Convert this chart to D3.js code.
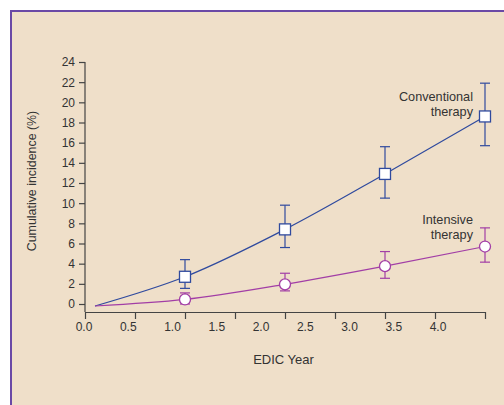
<!DOCTYPE html>
<html><head><meta charset="utf-8">
<script src="https://cdn.jsdelivr.net/npm/d3@7"></script>
<style>body{margin:0;background:#fff}svg{display:block}text{font-family:"Liberation Sans",Arial,sans-serif}</style>
</head><body>
<svg id="c" width="504" height="405"></svg>
<script>
const years = [1, 2, 3, 4];
const conventional = [2.7, 7.4, 12.9, 18.6];
const conventionalLow = [1.55, 5.6, 10.5, 15.7];
const conventionalHigh = [4.4, 9.8, 15.6, 21.9];
const intensive = [0.45, 1.95, 3.75, 5.7];
const intensiveLow = [0.0, 1.3, 2.55, 4.15];
const intensiveHigh = [1.1, 3.05, 5.2, 7.55];
const startPoint = [0.1, -0.2];
const xTickValues = [0, 0.5, 1, 1.5, 2, 2.5, 3, 3.5, 4];
const xTickLabels = ["0.0", "0.5", "1.0", "1.5", "2.0", "2.5", "3.0", "3.5", "4.0"];
const yTickValues = [0, 2, 4, 6, 8, 10, 12, 14, 16, 18, 20, 22, 24];

const svg = d3.select("#c");
svg.append("rect").attr("x", 11).attr("y", 11).attr("width", 500).attr("height", 400)
  .attr("fill", "#efdfc9").attr("stroke", "#6a49a6").attr("stroke-width", 2);

const x = d3.scaleLinear().domain([0, 4]).range([85, 485]);
const xLab = d3.scaleLinear().domain([0, 4]).range([84, 438]);
const y = d3.scaleLinear().domain([0, 24]).range([304, 62]);
const axisColor = "#444";

// x axis
const gx = svg.append("g").attr("transform", "translate(0,312)")
  .call(d3.axisBottom(x).tickValues(xTickValues).tickFormat("").tickSize(7).tickSizeOuter(0));
gx.select(".domain").attr("stroke", axisColor).attr("stroke-width", 1.2);
gx.selectAll(".tick line").attr("stroke", axisColor).attr("stroke-width", 1.2);
svg.append("g").selectAll("text").data(xTickValues).join("text")
  .attr("x", d => xLab(d)).attr("y", 331).attr("text-anchor", "middle")
  .attr("font-size", 12).attr("fill", "#333").text((d, i) => xTickLabels[i]);

// y axis
const gy = svg.append("g").attr("transform", "translate(85,0)")
  .call(d3.axisLeft(y).tickValues(yTickValues).tickSize(6).tickPadding(4).tickSizeOuter(0));
gy.select(".domain").attr("d", "M0," + y(24) + "V312").attr("stroke", axisColor).attr("stroke-width", 1.2);
gy.selectAll(".tick line").attr("stroke", axisColor).attr("stroke-width", 1.2);
gy.selectAll(".tick text").attr("font-size", 12).attr("fill", "#333").attr("font-family", "Liberation Sans, Arial, sans-serif");

svg.append("text").attr("transform", "translate(36,181) rotate(-90)").attr("text-anchor", "middle")
  .attr("font-size", 12.4).attr("fill", "#333").text("Cumulative incidence (%)");
svg.append("text").attr("x", 283.5).attr("y", 364).attr("text-anchor", "middle")
  .attr("font-size", 13).attr("fill", "#333").text("EDIC Year");

function series(vals, lo, hi, color, shape) {
  const pts = [startPoint].concat(years.map((yr, i) => [yr, vals[i]]));
  const line = d3.line().x(d => x(d[0])).y(d => y(d[1])).curve(d3.curveMonotoneX);
  svg.append("path").attr("d", line(pts)).attr("fill", "none").attr("stroke", color).attr("stroke-width", 1.2);
  const g = svg.append("g");
  years.forEach((yr, i) => {
    const cx = x(yr);
    g.append("line").attr("x1", cx).attr("x2", cx).attr("y1", y(lo[i])).attr("y2", y(hi[i])).attr("stroke", color).attr("stroke-width", 1.2);
    [lo[i], hi[i]].forEach(v => g.append("line").attr("x1", cx - 5).attr("x2", cx + 5).attr("y1", y(v)).attr("y2", y(v)).attr("stroke", color).attr("stroke-width", 1.2));
  });
  years.forEach((yr, i) => {
    if (shape === "square") {
      g.append("rect").attr("x", x(yr) - 5.5).attr("y", y(vals[i]) - 5.5).attr("width", 11).attr("height", 11)
        .attr("fill", "#fff").attr("stroke", color).attr("stroke-width", 1.3);
    } else {
      g.append("circle").attr("cx", x(yr)).attr("cy", y(vals[i])).attr("r", 5.5)
        .attr("fill", "#fff").attr("stroke", color).attr("stroke-width", 1.3);
    }
  });
}
series(conventional, conventionalLow, conventionalHigh, "#2f4a9e", "square");
series(intensive, intensiveLow, intensiveHigh, "#a23ea6", "circle");

function label(lines, xr, y0) {
  lines.forEach((t, i) => svg.append("text").attr("x", xr).attr("y", y0 + i * 15).attr("text-anchor", "end")
    .attr("font-size", 12.7).attr("fill", "#333").text(t));
}
label(["Conventional", "therapy"], 473, 101);
label(["Intensive", "therapy"], 473, 224);
</script>
</body></html>
